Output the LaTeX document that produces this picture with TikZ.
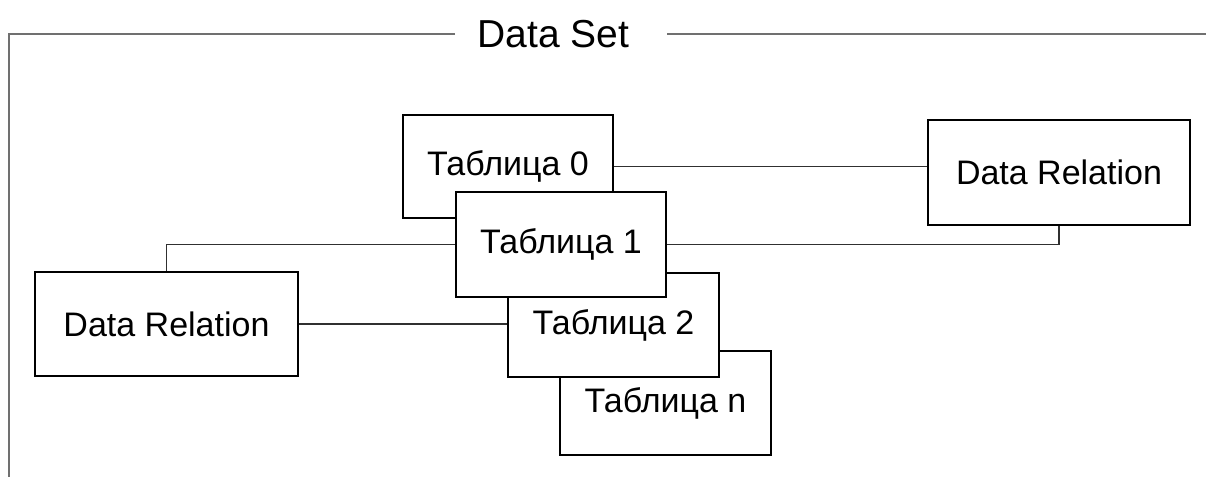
\documentclass[tikz,border=0pt]{standalone}
\usepackage{fontspec}
\setmainfont{Liberation Sans}
\definecolor{framegray}{HTML}{707070}
\definecolor{linegray}{HTML}{303030}
\begin{document}
\begin{tikzpicture}[x=1pt,y=-1pt,
  tbox/.style={draw=black, line width=2.2pt, fill=white, rectangle, inner sep=0pt,
    font=\fontsize{34}{40}\selectfont},
  conn/.style={draw=linegray, line width=1.4pt},
  frameline/.style={draw=framegray, line width=2pt}]
\useasboundingbox (0,0) rectangle (1206,477);
% frame
\node[font=\fontsize{39}{44}\selectfont, inner sep=0pt] (title) at (553.5,34) {Data Set};
\coordinate (fl) at (455,34);
\coordinate (fr) at (667,34);
\coordinate (corner) at (9,34);
\coordinate (bottom) at (9,477);
\coordinate (rightend) at (1206,34);
\draw[frameline] (fl) -- (corner) -- (bottom);
\draw[frameline] (fr) -- (rightend);
% boxes
\node[tbox, minimum width=211pt, minimum height=104pt] (Tn) at (665.5,403) {Таблица n};
\node[tbox, minimum width=211pt, minimum height=104pt] (T2) at (613.5,325) {Таблица 2};
\node[tbox, minimum width=210pt, minimum height=103pt] (T0) at (508,166.5) {Таблица 0};
\node[tbox, minimum width=210pt, minimum height=105pt] (T1) at (561,244.5) {Таблица 1};
\node[tbox, minimum width=262pt, minimum height=105pt] (DRr) at (1059,172.5) {Data Relation};
\node[tbox, minimum width=263pt, minimum height=104pt] (DRl) at (166.5,324) {Data Relation};
% connectors
\draw[conn] (T0.east) -- (T0.east -| DRr.west);
\draw[conn] (DRr.south) |- (T1.east);
\draw[conn] (DRl.north) |- (T1.west);
\draw[conn] (DRl.east) -- (DRl.east -| T2.west);
\end{tikzpicture}
\end{document}
